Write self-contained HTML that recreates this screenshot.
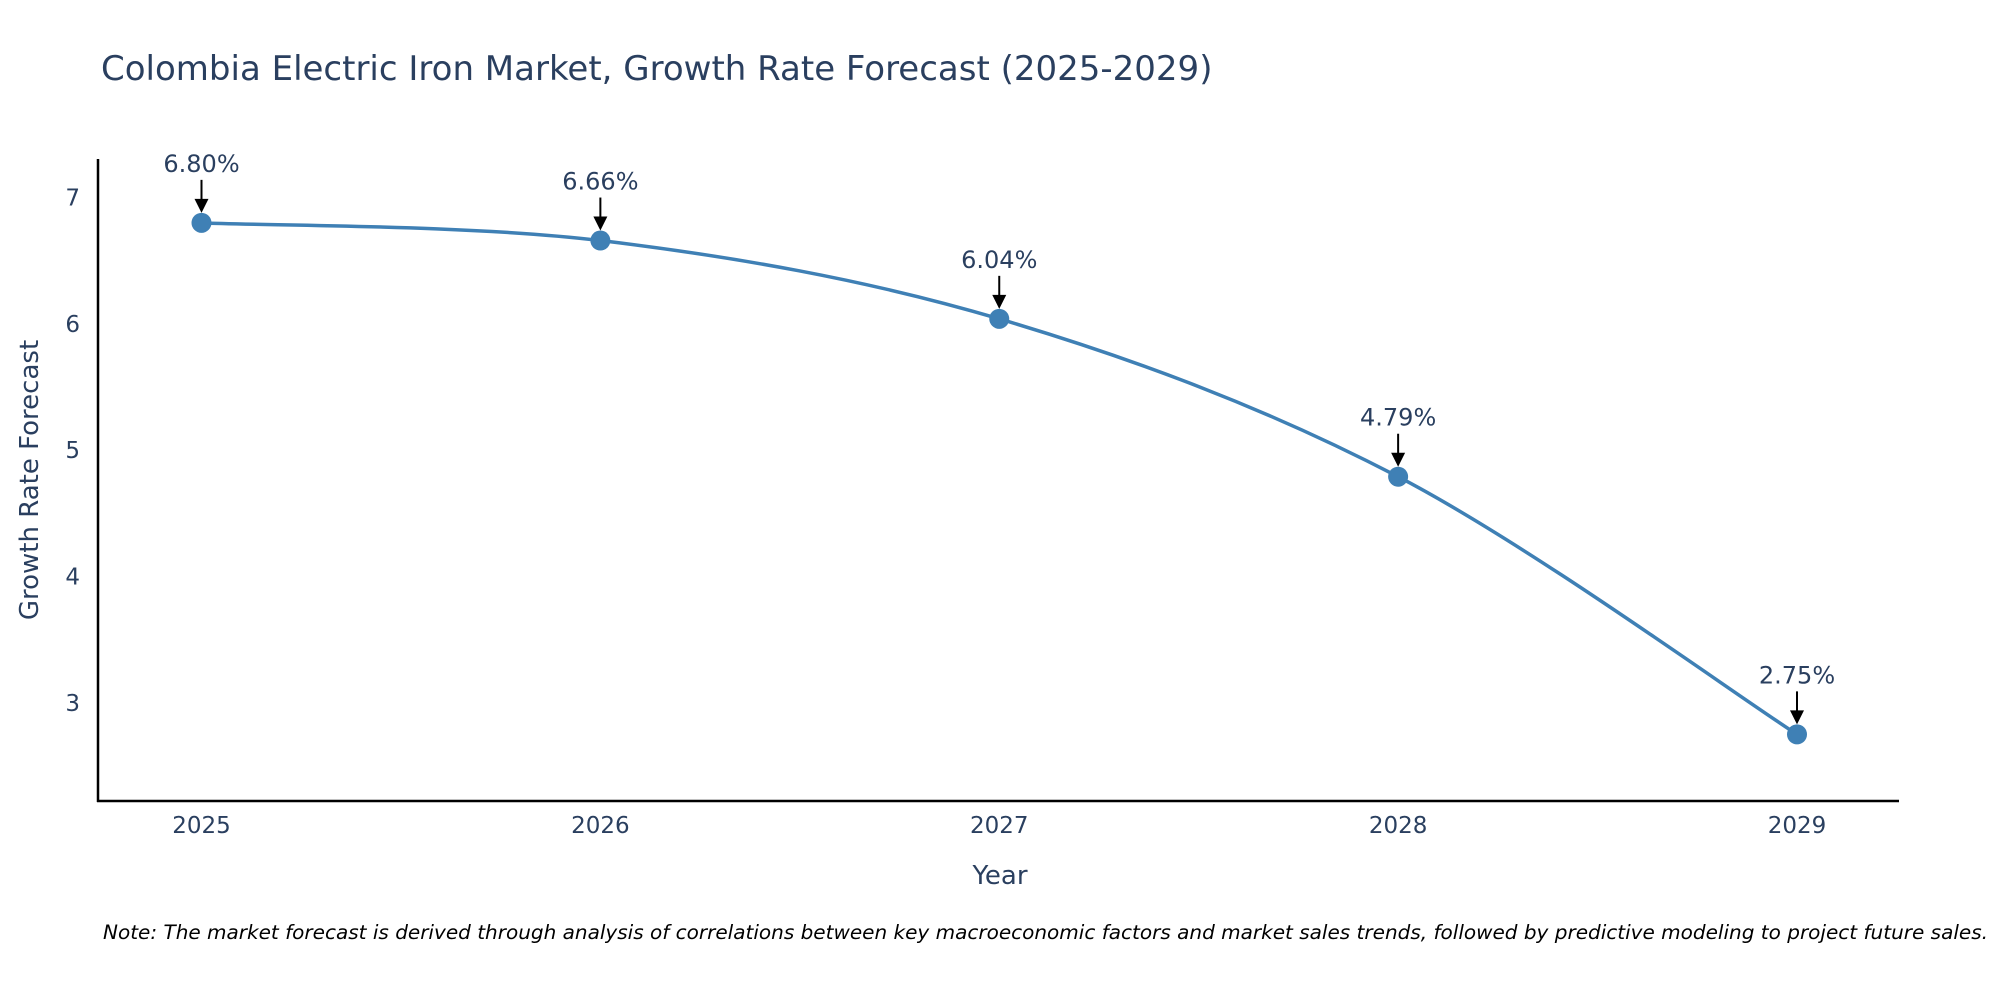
<!DOCTYPE html>
<html><head><meta charset="utf-8">
<style>
html,body{margin:0;padding:0;background:#fff;}
svg{display:block;font-family:"DejaVu Sans","Liberation Sans",sans-serif;}
</style></head>
<body>
<svg id="chart" width="2000" height="1000" viewBox="0 0 2000 1000">
<text x="101" y="80" font-size="34" fill="#2a3f5f">Colombia Electric Iron Market, Growth Rate Forecast (2025-2029)</text>
<g id="yticks"></g>
<g id="xticks"></g>
<line x1="98" y1="159" x2="98" y2="802" stroke="#000" stroke-width="2.5"/>
<line x1="97" y1="801" x2="1899" y2="801" stroke="#000" stroke-width="2.5"/>
<path id="line" fill="none" stroke="#3f80b5" stroke-width="3.5"/>
<g id="points"></g>
<g id="annots"></g>
<text x="1000" y="884" font-size="26" fill="#2a3f5f" text-anchor="middle">Year</text>
<text transform="translate(38,480) rotate(-90)" font-size="26" fill="#2a3f5f" text-anchor="middle">Growth Rate Forecast</text>
<text x="103" y="939" font-size="19.5" font-style="italic" fill="#000" textLength="1885" lengthAdjust="spacingAndGlyphs">Note: The market forecast is derived through analysis of correlations between key macroeconomic factors and market sales trends, followed by predictive modeling to project future sales.</text>
</svg>
<script>
const years = ["2025","2026","2027","2028","2029"];
const values = [6.80, 6.66, 6.04, 4.79, 2.75];
const valueLabels = ["6.80%","6.66%","6.04%","4.79%","2.75%"];
const yTicks = [3,4,5,6,7];

const NS = "http://www.w3.org/2000/svg";
function xPos(i){ return 201.5 + i*(1797-201.5)/(years.length-1); }
function yPos(v){ return 702.8 - (v-3)*126.3; }
function mk(tag, attrs, parent){ const e=document.createElementNS(NS,tag); for(const k in attrs) e.setAttribute(k,attrs[k]); parent.appendChild(e); return e; }

const yt=document.getElementById('yticks');
yTicks.forEach(t=>{
  const e=mk('text',{x:80,y:yPos(t)+8,'font-size':23,fill:'#2a3f5f','text-anchor':'end'},yt);
  
  
  e.textContent=t;
});
const xt=document.getElementById('xticks');
years.forEach((y,i)=>{
  const e=mk('text',{x:xPos(i),y:833,'font-size':23,fill:'#2a3f5f','text-anchor':'middle'},xt);
  
  
  e.textContent=y;
});

const pts=values.map((v,i)=>[xPos(i),yPos(v)]);
let d="M"+pts[0][0]+","+pts[0][1];
for(let i=0;i<pts.length-1;i++){
  const p0=pts[Math.max(0,i-1)],p1=pts[i],p2=pts[i+1],p3=pts[Math.min(pts.length-1,i+2)];
  const c1=[p1[0]+(p2[0]-p0[0])/6,p1[1]+(p2[1]-p0[1])/6];
  const c2=[p2[0]-(p3[0]-p1[0])/6,p2[1]-(p3[1]-p1[1])/6];
  d+=" C"+c1[0]+","+c1[1]+" "+c2[0]+","+c2[1]+" "+p2[0]+","+p2[1];
}
document.getElementById('line').setAttribute('d',d);

const pg=document.getElementById('points'), ag=document.getElementById('annots');
pts.forEach((p,i)=>{
  const c=mk('circle',{cx:p[0],cy:p[1],r:10,fill:'#3f80b5'},pg);
  
  
  const l=mk('line',{x1:p[0],y1:p[1]-43,x2:p[0],y2:p[1]-22,stroke:'#000','stroke-width':2},ag);
  
  
  const a=mk('polygon',{points:(p[0]-7)+","+(p[1]-24)+" "+(p[0]+7)+","+(p[1]-24)+" "+p[0]+","+(p[1]-10),fill:'#000'},ag);
  
  
  const t=mk('text',{x:p[0],y:p[1]-51,'font-size':24,fill:'#2a3f5f','text-anchor':'middle'},ag);
  
  
  t.textContent=valueLabels[i];
});
</script>
</body></html>
